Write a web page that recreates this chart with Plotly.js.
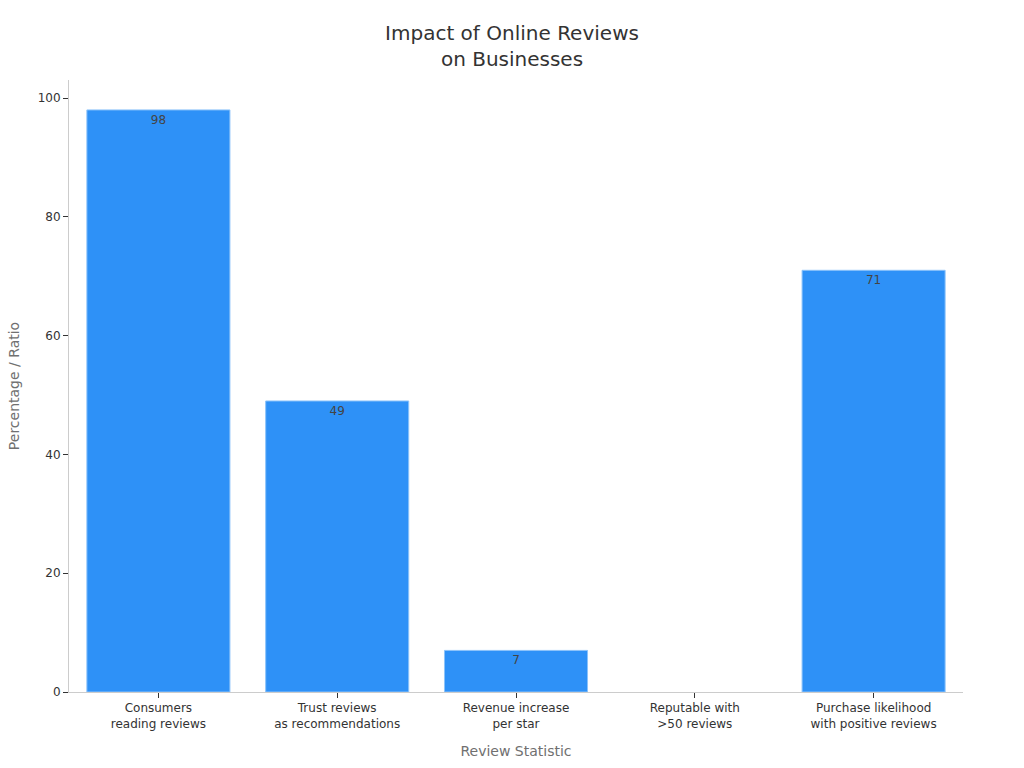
<!DOCTYPE html>
<html>
<head>
<meta charset="utf-8">
<script src="https://cdn.plot.ly/plotly-3.0.1.min.js"></script>
<style>html,body{margin:0;padding:0;background:#fff;}#chart{width:1024px;height:768px;}</style>
</head>
<body>
<div id="chart"></div>
<script>
var categories = ["Consumers<br>reading reviews", "Trust reviews<br>as recommendations", "Revenue increase<br>per star", "Reputable with<br>>50 reviews", "Purchase likelihood<br>with positive reviews"];
var values = [98, 49, 7, null, 71];
var labels = ["98", "49", "7", "", "71"];

var trace = {
  type: "bar",
  x: categories,
  y: values,
  text: labels,
  textposition: "inside",
  insidetextanchor: "end",
  textangle: 0,
  textfont: {family: "DejaVu Sans", size: 12, color: "#444444"},
  marker: {color: "#2E91F7", line: {color: "#8cc3fa", width: 1}},
  hoverinfo: "none"
};

var layout = {
  width: 1024, height: 768,
  margin: {l: 69, r: 61, t: 80, b: 76},
  paper_bgcolor: "#ffffff",
  plot_bgcolor: "#ffffff",
  font: {family: "DejaVu Sans", color: "#333333", size: 12},
  title: {text: "Impact of Online Reviews<br>on Businesses", x: 0.5, xanchor: "center", y: 0.948, yanchor: "top", font: {size: 20, color: "#333333"}},
  bargap: 0.2,
  showlegend: false,
  xaxis: {
    title: {text: "Review Statistic", font: {size: 14, color: "#707070"}, standoff: 16},
    showline: true, linecolor: "#cccccc", linewidth: 1,
    ticks: "outside", ticklen: 5, tickcolor: "#333333",
    showgrid: false, tickfont: {size: 12, color: "#333333"}
  },
  yaxis: {
    title: {text: "Percentage / Ratio", font: {size: 14, color: "#707070"}, standoff: 14},
    range: [0, 103.04],
    showline: true, linecolor: "#cccccc", linewidth: 1,
    ticks: "outside", ticklen: 5, tickcolor: "#333333",
    tickvals: [0, 20, 40, 60, 80, 100],
    showgrid: false, zeroline: false, tickfont: {size: 12, color: "#333333"}
  },
  uniformtext: {mode: "hide", minsize: 8}
};

Plotly.newPlot("chart", [trace], layout, {displayModeBar: false, staticPlot: true});
</script>
</body>
</html>
